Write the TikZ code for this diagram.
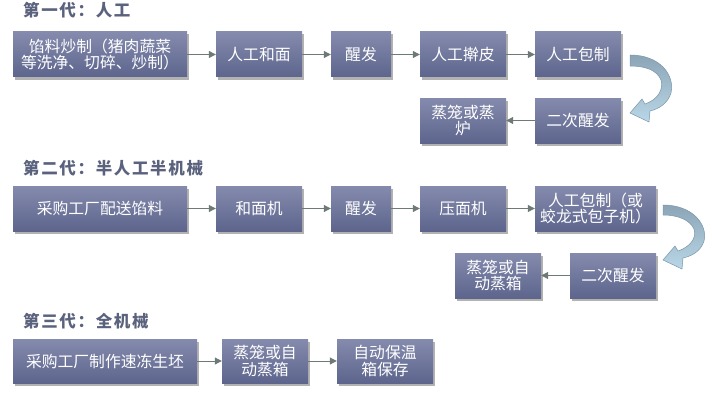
\documentclass[tikz,border=0pt]{standalone}
\usepackage{fontspec}
\newfontfamily\cjk{Noto Sans CJK SC}
\newfontfamily\cjktitle[LetterSpace=10]{Noto Sans CJK SC}
\usetikzlibrary{arrows.meta,shadows}
\definecolor{boxtop}{RGB}{133,139,173}
\definecolor{boxbot}{RGB}{93,101,141}
\definecolor{titlecol}{RGB}{90,98,125}
\definecolor{arrcol}{RGB}{110,122,117}
\definecolor{curvtop}{RGB}{140,165,182}
\definecolor{curvbot}{RGB}{185,215,232}
\definecolor{curvline}{RGB}{120,150,170}
\tikzset{
  procbox/.style={rectangle, inner sep=0pt, top color=boxtop, bottom color=boxbot,
    draw=none, text=white, align=center, font=\cjk\fontsize{15.8}{16.5}\selectfont,
    drop shadow={shadow xshift=1.5pt, shadow yshift=-2.5pt, opacity=0.3, fill=black},
    minimum height=45pt},
  gentitle/.style={anchor=west, inner sep=0pt, text=titlecol, font=\cjktitle\bfseries\fontsize{16.5}{18}\selectfont},
  flow/.style={draw=arrcol, line width=1pt, -{Triangle[length=7pt,width=7pt]}},
  curvarrow/.style={top color=curvtop, bottom color=curvbot, draw=curvline, line width=0.5pt}
}
\begin{document}
\begin{tikzpicture}[x=1pt,y=-1pt]
\useasboundingbox (0,0) rectangle (712,412);
% titles
\node[gentitle] (t1) at (23,10) {第一代：人工};
\node[gentitle] (t2) at (23,168) {第二代：半人工半机械};
\node[gentitle] (t3) at (23,321) {第三代：全机械};
% row 1
\node[procbox, minimum width=174pt] (b11) at (100,54.5) {馅料炒制（猪肉蔬菜\\等洗净、切碎、炒制）};
\node[procbox, minimum width=86pt] (b12) at (259,54.5) {人工和面};
\node[procbox, minimum width=60pt] (b13) at (361,54.5) {醒发};
\node[procbox, minimum width=86pt] (b14) at (463,54.5) {人工擀皮};
\node[procbox, minimum width=86pt] (b15) at (578,54.5) {人工包制};
\node[procbox, minimum width=86pt] (b16) at (463,120.5) {蒸笼或蒸\\炉};
\node[procbox, minimum width=86pt] (b17) at (578,120.5) {二次醒发};
\draw[flow] (b11) -- (b12);
\draw[flow] (b12) -- (b13);
\draw[flow] (b13) -- (b14);
\draw[flow] (b14) -- (b15);
\draw[flow] (b17) -- (b16);
% row 2
\node[procbox, minimum width=174pt] (b21) at (100,208.5) {采购工厂配送馅料};
\node[procbox, minimum width=86pt] (b22) at (259,208.5) {和面机};
\node[procbox, minimum width=60pt] (b23) at (361,208.5) {醒发};
\node[procbox, minimum width=86pt] (b24) at (463,208.5) {压面机};
\node[procbox, minimum width=121pt] (b25) at (595.5,208.5) {人工包制（或\\蛟龙式包子机）};
\node[procbox, minimum width=86pt] (b26) at (498,275.5) {蒸笼或自\\动蒸箱};
\node[procbox, minimum width=86pt] (b27) at (613,275.5) {二次醒发};
\draw[flow] (b21) -- (b22);
\draw[flow] (b22) -- (b23);
\draw[flow] (b23) -- (b24);
\draw[flow] (b24) -- (b25);
\draw[flow] (b27) -- (b26);
% row 3
\node[procbox, minimum width=184pt, minimum height=44pt] (b31) at (105,361) {采购工厂制作速冻生坯};
\node[procbox, minimum width=86pt, minimum height=44pt] (b32) at (265,361) {蒸笼或自\\动蒸箱};
\node[procbox, minimum width=96pt, minimum height=44pt] (b33) at (385,361) {自动保温\\箱保存};
\draw[flow] (b31) -- (b32);
\draw[flow] (b32) -- (b33);
% curved arrows
\begin{scope}[shift={(630,55)}]
\path[curvarrow] (0,0) .. controls (30,0) and (45,20) .. (41,38)
  .. controls (38,48) and (29,54) .. (20,56) -- (19,67) -- (0,58) -- (12,44) -- (15,49)
  .. controls (27,45) and (34,35) .. (31,25) .. controls (27,15) and (15,11) .. (0,11) -- cycle;
\end{scope}
\begin{scope}[shift={(663,205)}]
\path[curvarrow] (0,0) .. controls (30,0) and (45,20) .. (41,36)
  .. controls (38,46) and (29,51) .. (20,53) -- (19,64) -- (0,55) -- (12,41) -- (15,46)
  .. controls (27,42) and (34,33) .. (31,24) .. controls (27,15) and (15,10) .. (0,10) -- cycle;
\end{scope}
\end{tikzpicture}
\end{document}
